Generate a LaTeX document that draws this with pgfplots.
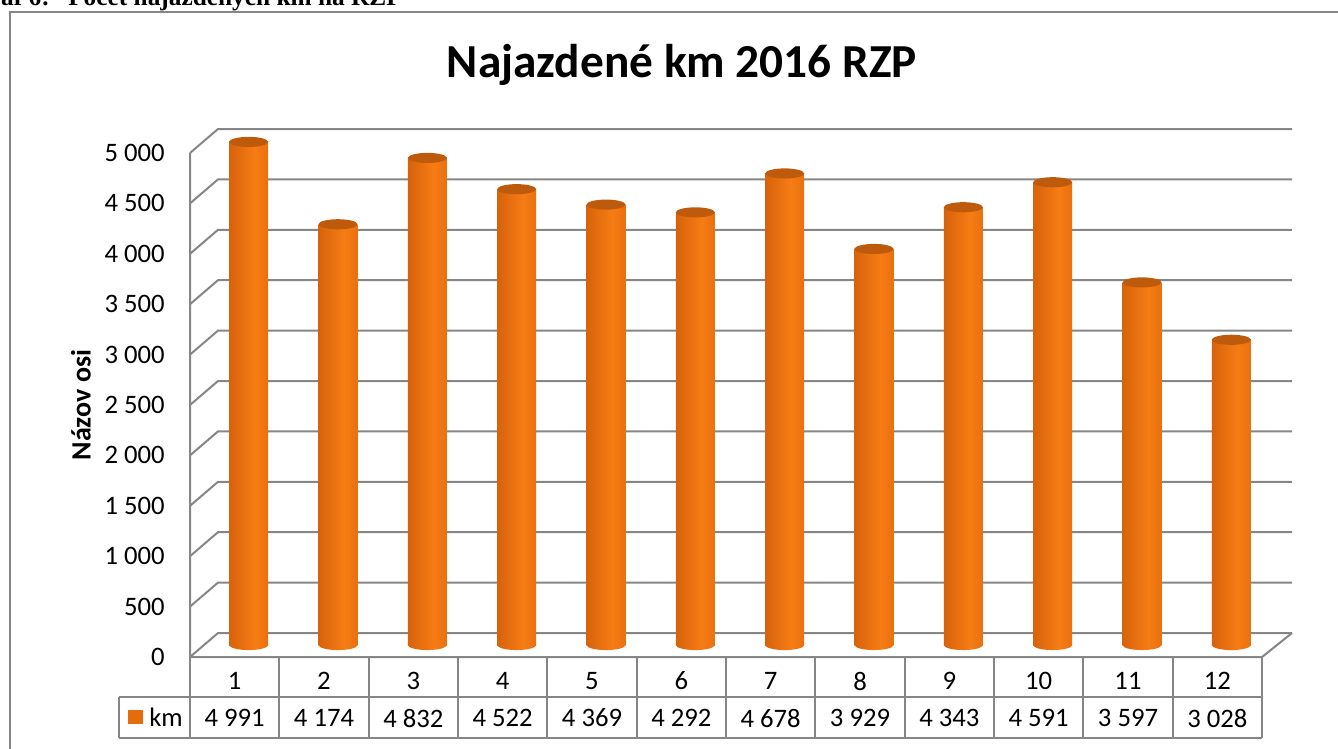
\documentclass[border=0pt]{standalone}
\usepackage{pgfplots}
\pgfplotsset{compat=1.18}
\usepackage{pgfplotstable}
\usepackage{fontspec}
\setmainfont{Carlito}
\newfontfamily\timesfont{Liberation Serif}
\definecolor{gridgray}{RGB}{134,134,134}
\definecolor{barorange}{RGB}{228,108,10}
\definecolor{bartop}{RGB}{190,90,12}
\definecolor{cA}{RGB}{160,68,4}
\definecolor{cB}{RGB}{212,96,10}
\definecolor{cC}{RGB}{246,124,20}
\definecolor{cD}{RGB}{226,106,12}
\definecolor{cE}{RGB}{165,74,6}
\pgfdeclarehorizontalshading{cyl}{100bp}{color(0bp)=(cA); color(22bp)=(cB); color(58bp)=(cC); color(84bp)=(cD); color(100bp)=(cE)}
\pgfdeclareplotmark{cylbot}{%
  \pgfpathellipse{\pgfpointorigin}{\pgfqpoint{\pgfplotmarksize}{0pt}}{\pgfqpoint{0pt}{0.26\pgfplotmarksize}}%
  \pgfshadepath{cyl}{0}%
  \pgfusepath{discard}%
}
\pgfdeclareplotmark{cyltop}{%
  \pgfpathellipse{\pgfpointorigin}{\pgfqpoint{\pgfplotmarksize}{0pt}}{\pgfqpoint{0pt}{0.26\pgfplotmarksize}}%
  \pgfusepath{fill}%
}
\pgfplotstableread{
x y
1 4991
2 4174
3 4832
4 4522
5 4369
6 4292
7 4678
8 3929
9 4343
10 4591
11 3597
12 3028
}\kmdata
\begin{document}
\begin{tikzpicture}
\path[use as bounding box] (0,0) rectangle (1003.5pt,-561.75pt);
\clip (0,0) rectangle (1003.5pt,-561.75pt);
\begin{scope}[x=0.75pt,y=-0.75pt]
  % outer border
  \draw[gridgray, line width=1.1pt] (10,12) rectangle (1360,780);
  % caption (cut at top)
  \node[anchor=base east, inner sep=0, font=\timesfont\bfseries\fontsize{19}{22}\selectfont] at (50,6) {Graf 6:};
  \node[anchor=base west, inner sep=0, font=\timesfont\bfseries\fontsize{19}{22}\selectfont] at (68,6) {Počet najazdených km na RZP};
  % title
  \node[anchor=base, inner sep=0, font=\bfseries\fontsize{35.5}{40}\selectfont] at (682,78) {Najazdené km 2016 RZP};
  % y label
  \node[rotate=90, anchor=center, inner sep=0, font=\bfseries\fontsize{21}{24}\selectfont] at (81,405) {Názov osi};
  % walls and grid
  \foreach \k in {0,...,10} {
    \draw[gridgray, line width=1.5pt] (190,{657-50.4*\k}) -- (218,{633-50.4*\k}) -- (1292,{633-50.4*\k});
  }
  \draw[gridgray, line width=1.5pt] (190,153) -- (190,657) -- (1262,657) -- (1292,633);
  % y tick labels
  \foreach \k/\lab in {0/0,1/500,2/1 000,3/1 500,4/2 000,5/2 500,6/3 000,7/3 500,8/4 000,9/4 500,10/5 000} {
    \node[anchor=east, inner sep=0, font=\fontsize{20}{22}\selectfont] at (165,{657-50.4*\k}) {\lab};
  }
  % data table
  \foreach \k in {0,...,12} {
    \draw[gridgray, line width=1.5pt] ({190+89.333*\k},657) -- ({190+89.333*\k},738);
  }
  \draw[gridgray, line width=1.5pt] (119,697) -- (1262,697);
  \draw[gridgray, line width=1.5pt] (119,738) -- (1262,738);
  \draw[gridgray, line width=1.5pt] (119,697) -- (119,738);
  \fill[barorange] (128,710) rectangle (143,724);
  \node[anchor=west, inner sep=0, font=\fontsize{20}{22}\selectfont] at (149,717) {km};
  \foreach \i/\v in {1/4 991,2/4 174,3/4 832,4/4 522,5/4 369,6/4 292,7/4 678,8/3 929,9/4 343,10/4 591,11/3 597,12/3 028} {
    \node[anchor=center, inner sep=0, font=\fontsize{20}{22}\selectfont] at ({190+89.333*(\i-0.5)},681) {\i};
    \node[anchor=center, inner sep=0, font=\fontsize{20}{22}\selectfont] at ({190+89.333*(\i-0.5)},718) {\v};
  }
\end{scope}
\begin{axis}[
  at={(153pt,-483.75pt)}, anchor=south west,
  scale only axis, width=804pt, height=378pt,
  xmin=0.5, xmax=12.5, ymin=0, ymax=5000,
  hide axis, clip=false,
]
\addplot[only marks, mark=cylbot, mark size=14.6pt] table[x=x, y expr=0] {\kmdata};
\pgfplotsinvokeforeach{1,...,12}{
  \addplot[ybar, bar width=29.2pt, bar shift=0pt, draw=none, shade, shading=cyl,
    restrict x to domain=#1:#1] table[x=x, y=y] {\kmdata};
}
\addplot[only marks, mark=cyltop, mark size=14.6pt, color=bartop] table[x=x, y=y] {\kmdata};
\end{axis}
\end{tikzpicture}
\end{document}
